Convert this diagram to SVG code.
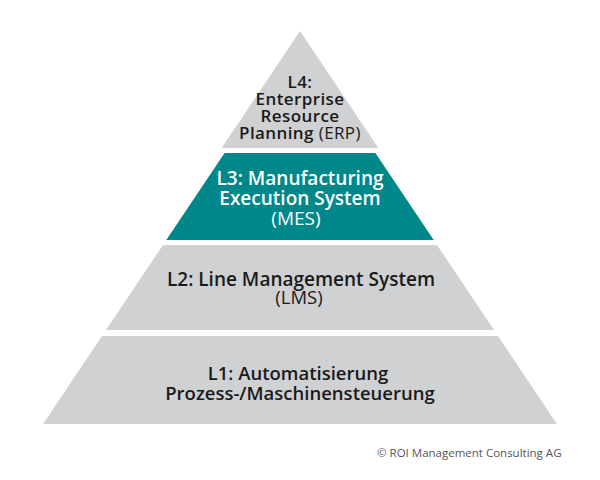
<svg xmlns="http://www.w3.org/2000/svg" width="600" height="480" viewBox="0 0 600 480">
<style>
.g{fill:#cfd1d3}
.t{fill:#00878a}
text{font-family:"Open Sans","Noto Sans",sans-serif;text-anchor:middle}
.k{fill:#1a1a1a;font-size:17px;font-weight:600;letter-spacing:0.4px}
.m{fill:#1a1a1a;font-size:18.5px;font-weight:600}
.w{fill:#ffffff;font-size:19px;font-weight:600}
.r{font-weight:400}
.c{fill:#555;font-size:11.5px;text-anchor:start}
</style>
<rect width="600" height="480" fill="#fff"/>
<g id="L4">
<polygon class="g" points="300,31 378.4,148 221.6,148"/>
<text class="k" x="300" y="88">L4:</text>
<text class="k" x="300" y="105">Enterprise</text>
<text class="k" x="300" y="122">Resource</text>
<text class="k" x="300" y="139">Planning <tspan class="r">(ERP)</tspan></text>
</g>
<g id="L3">
<polygon class="t" points="224.6,153 375.4,153 433.7,240 166.3,240"/>
<text class="w" x="300" y="185">L3: Manufacturing</text>
<text class="w" x="300" y="205">Execution System</text>
<text class="w r" x="296" y="225">(MES)</text>
</g>
<g id="L2">
<polygon class="g" points="163,245 437,245 494,330 106,330"/>
<text class="m" x="301" y="286" style="font-size:19px">L2: Line Management System</text>
<text class="m r" x="299" y="304">(LMS)</text>
</g>
<g id="L1">
<polygon class="g" points="102,336 498,336 557,424 43,424"/>
<text class="m" x="298" y="380">L1: Automatisierung</text>
<text class="m" x="300" y="400">Prozess-/Maschinensteuerung</text>
</g>
<text class="c" x="377" y="457">© ROI Management Consulting AG</text>
</svg>
